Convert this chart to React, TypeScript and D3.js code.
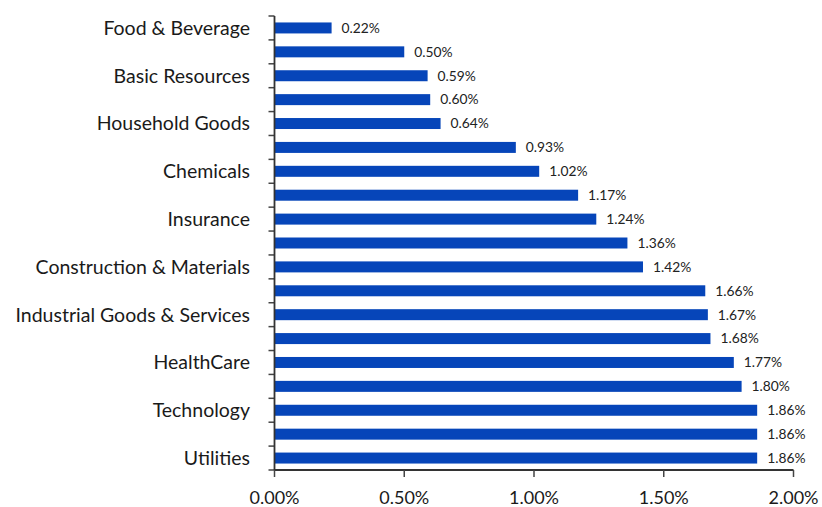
import React, { useEffect, useRef } from "react";
import * as d3 from "d3";

const tickLabels = [
  "Food & Beverage", "", "Basic Resources", "", "Household Goods", "",
  "Chemicals", "", "Insurance", "", "Construction & Materials", "",
  "Industrial Goods & Services", "", "HealthCare", "", "Technology", "", "Utilities",
];
const values = [
  0.22, 0.50, 0.59, 0.60, 0.64, 0.93, 1.02, 1.17, 1.24, 1.36,
  1.42, 1.66, 1.67, 1.68, 1.77, 1.80, 1.86, 1.86, 1.86,
];
const xTicks = [0, 0.5, 1.0, 1.5, 2.0];

const W = 822;
const H = 507;
const FONT = "Lato, 'Open Sans', sans-serif";

export default function App() {
  const ref = useRef<SVGSVGElement>(null);
  useEffect(() => {
    const svg = d3.select(ref.current);
    svg.selectAll("*").remove();
    const left = 274.5, right = 793.5, top = 16, bottom = 470;
    const x = d3.scaleLinear().domain([0, 2]).range([left, right]);
    const idx = values.map((_, i) => i);
    const y = d3.scaleBand<number>().domain(idx).range([top, bottom]).paddingInner(0).paddingOuter(0);
    const bh = y.bandwidth() * 0.46;

    // bars
    svg.append("g").selectAll("rect").data(idx).join("rect")
      .attr("x", x(0))
      .attr("y", (i) => y(i)! + y.bandwidth() / 2 - bh / 2)
      .attr("width", (i) => x(values[i]) - x(0))
      .attr("height", bh)
      .attr("fill", "#0645b9");

    // value labels
    svg.append("g").selectAll("text").data(idx).join("text")
      .attr("x", (i) => x(values[i]) + 10)
      .attr("y", (i) => y(i)! + y.bandwidth() / 2)
      .attr("dy", "0.35em")
      .attr("font-family", FONT)
      .attr("font-size", 13.8)
      .attr("fill", "#222")
      .text((i) => values[i].toFixed(2) + "%");

    // y axis
    const boundaries = d3.range(values.length + 1).map((k) => top + k * y.step());
    const ya = svg.append("g");
    ya.selectAll("line.tk").data(boundaries).join("line")
      .attr("x1", left - 6).attr("x2", left)
      .attr("y1", (d) => d).attr("y2", (d) => d)
      .attr("stroke", "#444").attr("stroke-width", 1.5);
    ya.append("line").attr("x1", left).attr("x2", left).attr("y1", top).attr("y2", bottom)
      .attr("stroke", "#333").attr("stroke-width", 1.8);
    ya.selectAll("text").data(idx.filter((i) => tickLabels[i] !== "")).join("text")
      .attr("x", 250)
      .attr("y", (i) => y(i)! + y.bandwidth() / 2)
      .attr("dy", "0.35em")
      .attr("text-anchor", "end")
      .attr("font-family", FONT)
      .attr("font-size", 19.5)
      .attr("fill", "#1a1a1a")
      .text((i) => tickLabels[i]);

    // x axis
    const xa = svg.append("g");
    xa.append("line").attr("x1", left).attr("x2", right).attr("y1", bottom).attr("y2", bottom)
      .attr("stroke", "#333").attr("stroke-width", 1.8);
    xa.selectAll("line.tk").data(xTicks).join("line")
      .attr("x1", (d) => x(d)).attr("x2", (d) => x(d))
      .attr("y1", bottom).attr("y2", bottom + 7)
      .attr("stroke", "#444").attr("stroke-width", 1.5);
    xa.selectAll("text").data(xTicks).join("text")
      .attr("x", (d) => x(d))
      .attr("y", 498)
      .attr("dy", "0.35em")
      .attr("text-anchor", "middle")
      .attr("font-family", FONT)
      .attr("font-size", 18)
      .attr("fill", "#1a1a1a")
      .text((d) => d.toFixed(2) + "%");
  }, []);
  return (
    <svg ref={ref} width={W} height={H}
      style={{ position: "absolute", left: 0, top: 0, background: "#fff" }} />
  );
}
